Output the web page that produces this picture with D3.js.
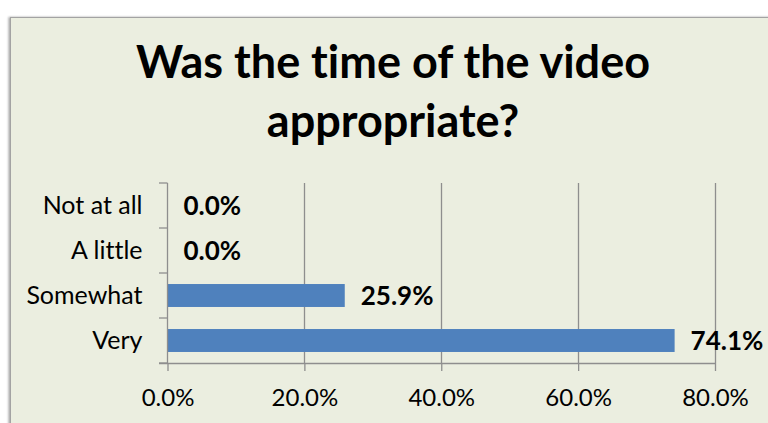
<!DOCTYPE html>
<html>
<head>
<meta charset="utf-8">
<script src="https://cdn.jsdelivr.net/npm/d3@7"></script>
<style>
  html, body { margin: 0; padding: 0; background: #ffffff; }
  svg { display: block; }
  text { font-family: Lato, "Open Sans", sans-serif; fill: #000; font-variant-ligatures: none; }
</style>
</head>
<body>
<svg id="chart" width="768" height="423"></svg>
<script>
// Survey answers, listed top to bottom as drawn
const categories = ["Not at all", "A little", "Somewhat", "Very"];
const shares = [0.0, 0.0, 25.9, 74.1];          // percent of respondents
const tickValues = [0, 20, 40, 60, 80];
const titleLines = ["Was the time of the video", "appropriate?"];

const W = 768, H = 423;
const svg = d3.select("#chart");

// Shadow for the chart frame
const defs = svg.append("defs");
const f = defs.append("filter").attr("id", "frameShadow")
  .attr("x", "-5%").attr("y", "-5%").attr("width", "110%").attr("height", "110%");
f.append("feDropShadow").attr("dx", -1.5).attr("dy", 0).attr("stdDeviation", 1.2)
  .attr("flood-color", "#000").attr("flood-opacity", 0.35);

// Chart area (frame continues past the right and bottom edges)
svg.append("rect")
  .attr("x", 10.5).attr("y", 17.5)
  .attr("width", W + 20).attr("height", H + 20)
  .attr("fill", "#ebeee0")
  .attr("stroke", "#a3a3a3").attr("stroke-width", 1)
  .attr("filter", "url(#frameShadow)");

// Title
svg.append("g").selectAll("text")
  .data(titleLines)
  .join("text")
  .attr("x", 393)
  .attr("y", (d, i) => 78 + i * 59)
  .attr("text-anchor", "middle")
  .attr("font-size", 45)
  .attr("font-weight", 700)
  .text(d => d);

// Scales
const x = d3.scaleLinear().domain([0, 80]).range([167.5, 715]);
const y = d3.scaleBand().domain(categories).range([183, 363])
  .paddingInner(0.49).paddingOuter(0.245);

const plot = svg.append("g");
const gridColor = "#8e8e8e";

// Vertical gridlines
plot.append("g").selectAll("line")
  .data(tickValues.slice(1))
  .join("line")
  .attr("x1", d => Math.round(x(d)) + 0.5).attr("x2", d => Math.round(x(d)) + 0.5)
  .attr("y1", 183).attr("y2", 363)
  .attr("stroke", gridColor).attr("stroke-width", 1.3);

// Bars
plot.append("g").selectAll("rect")
  .data(categories.map((c, i) => ({ c, v: shares[i] })))
  .join("rect")
  .attr("x", x(0))
  .attr("y", d => y(d.c))
  .attr("width", d => x(d.v) - x(0))
  .attr("height", y.bandwidth())
  .attr("fill", "#4f81bd");

// Value labels
plot.append("g").selectAll("text")
  .data(categories.map((c, i) => ({ c, v: shares[i] })))
  .join("text")
  .attr("x", d => x(d.v) + 16)
  .attr("y", d => y(d.c) + y.bandwidth() / 2)
  .attr("dy", "0.36em")
  .attr("font-size", 26)
  .attr("font-weight", 700)
  .text(d => d.v.toFixed(1) + "%");

// X axis
const xAxis = svg.append("g")
  .attr("transform", "translate(0,363)")
  .call(d3.axisBottom(x).tickValues(tickValues).tickSize(8).tickPadding(18)
    .tickFormat(d => d.toFixed(1) + "%"));
xAxis.select(".domain").attr("d", `M159,0.5H${x(80)}`).attr("stroke", gridColor).attr("stroke-width", 1.3);
xAxis.selectAll(".tick line").attr("stroke", gridColor).attr("stroke-width", 1.3);
xAxis.selectAll(".tick text").attr("font-size", 24).attr("font-family", "Lato, sans-serif").attr("fill", "#000");

// Y axis: labels at band centres, tick marks on band boundaries
const yAxis = svg.append("g").attr("transform", "translate(167.5,0)")
  .call(d3.axisLeft(y).tickSize(0).tickPadding(25));
yAxis.select(".domain").attr("d", "M0,183V363").attr("stroke", gridColor).attr("stroke-width", 1.3);
yAxis.selectAll(".tick text").attr("font-size", 25).attr("font-family", "Lato, sans-serif").attr("fill", "#000");

const bounds = d3.range(categories.length + 1).map(i => 183 + i * y.step());
yAxis.append("g").selectAll("line")
  .data(bounds)
  .join("line")
  .attr("x1", -8.5).attr("x2", 0)
  .attr("y1", d => d).attr("y2", d => d)
  .attr("stroke", gridColor).attr("stroke-width", 1.3);
</script>
</body>
</html>
